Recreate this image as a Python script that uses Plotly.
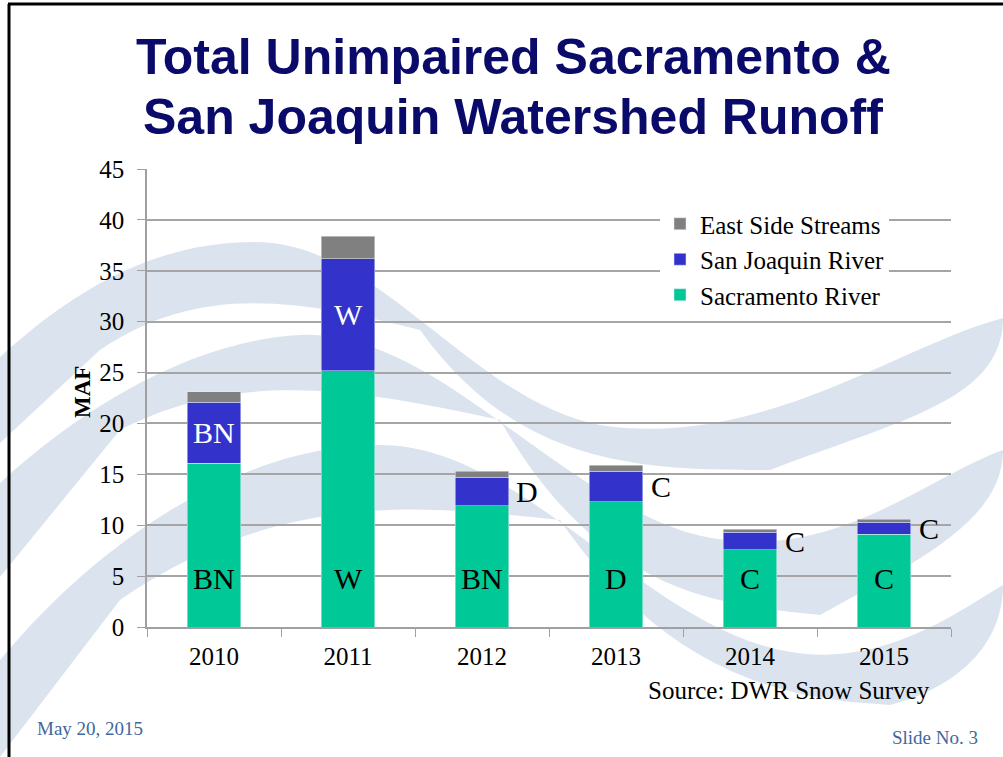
import plotly.graph_objects as go

# water years and runoff (million acre-feet) per basin
years = ["2010", "2011", "2012", "2013", "2014", "2015"]
sacramento = [16.1, 25.2, 11.9, 12.3, 7.6, 9.1]
san_joaquin = [6.0, 11.0, 2.8, 3.0, 1.7, 1.2]
east_side = [1.0, 2.2, 0.6, 0.6, 0.3, 0.3]

# water year classification labels
sac_class = ["BN", "W", "BN", "D", "C", "C"]
sj_class = ["BN", "W", "D", "C", "C", "C"]

W, H = 1003, 757
L, R, T, B = 147, 52, 169, 130
SERIF = "Liberation Serif, Times New Roman, serif"
WAVE = "rgb(219,228,238)"


def fx(px):
    return (px - L) / (W - L - R)


def fy(py):
    return (H - B - py) / (H - T - B)


def band(pts):
    # pts: start point then groups of three bezier points, in pixels
    s = "M%.4f,%.4f" % (fx(pts[0][0]), fy(pts[0][1]))
    rest = pts[1:]
    for k in range(0, len(rest), 3):
        c = rest[k:k + 3]
        if len(c) == 1:
            s += " L%.4f,%.4f" % (fx(c[0][0]), fy(c[0][1]))
        else:
            s += " C" + " ".join("%.4f,%.4f" % (fx(a), fy(b)) for a, b in c)
    return s + " Z"


waves = [
    [(0, 357), (90, 275), (170, 242), (255, 242), (380, 242), (470, 400), (600, 425),
     (760, 450), (900, 345), (1003, 318), (1003, 400), (900, 420), (770, 470), (650, 470),
     (520, 470), (420, 330), (300, 300), (200, 282), (100, 350), (0, 443)],
    [(0, 483), (90, 400), (200, 340), (300, 335), (430, 330), (540, 480), (680, 530),
     (820, 575), (920, 480), (1003, 450), (1003, 520), (920, 560), (820, 615), (720, 605),
     (600, 595), (500, 420), (360, 390), (240, 368), (120, 430), (0, 577)],
    [(0, 660), (100, 540), (240, 445), (380, 445), (520, 445), (640, 620), (780, 650),
     (880, 672), (960, 610), (1003, 585), (1003, 650), (950, 690), (890, 705), (820, 700),
     (680, 695), (560, 520), (420, 505), (280, 490), (120, 600), (0, 757)],
]

fig = go.Figure()
fig.add_bar(x=years, y=sacramento, name="Sacramento River", marker_color="rgb(0,200,150)", width=0.4)
fig.add_bar(x=years, y=san_joaquin, name="San Joaquin River", marker_color="rgb(51,51,204)", width=0.4)
fig.add_bar(x=years, y=east_side, name="East Side Streams", marker_color="rgb(128,128,128)", width=0.4)

shapes = [dict(type="path", path=band(w), xref="paper", yref="paper", fillcolor=WAVE,
               line=dict(width=0), layer="below") for w in waves]
# slide border
shapes.append(dict(type="line", xref="paper", yref="paper", x0=fx(9), x1=fx(9), y0=fy(4), y1=fy(757),
                   line=dict(color="black", width=3)))
shapes.append(dict(type="line", xref="paper", yref="paper", x0=fx(8), x1=fx(1003), y0=fy(4), y1=fy(4),
                   line=dict(color="black", width=3)))

annotations = []
for i in range(len(years)):
    annotations.append(dict(x=i, y=4.8, text=sac_class[i], showarrow=False,
                            font=dict(family=SERIF, size=30, color="black")))
    mid = sacramento[i] + san_joaquin[i] / 2
    if san_joaquin[i] > 4:
        annotations.append(dict(x=i, y=mid, text=sj_class[i], showarrow=False,
                                font=dict(family=SERIF, size=30, color="white")))
    else:
        annotations.append(dict(x=i, y=mid, text=sj_class[i], showarrow=False, xshift=45,
                                font=dict(family=SERIF, size=30, color="black")))


def note(x, y, text, size, color, family=SERIF, xanchor="center", angle=0):
    return dict(xref="paper", yref="paper", x=fx(x), y=fy(y), text=text, showarrow=False,
                xanchor=xanchor, yanchor="middle", textangle=angle,
                font=dict(family=family, size=size, color=color))


ARIAL = "Arial, Liberation Sans, sans-serif"
NAVY = "rgb(10,10,106)"
DATE_BLUE = "rgb(65,104,156)"
annotations += [
    note(513, 57, "<b>Total Unimpaired Sacramento &amp;</b>", 50, NAVY, ARIAL),
    note(513, 117, "<b>San Joaquin Watershed Runoff</b>", 50, NAVY, ARIAL),
    note(82, 392, "<b>MAF</b>", 23, "black", angle=-90),
    note(932, 690, "Source: DWR Snow Survey", 25, "black", xanchor="right"),
    note(35, 728, "May 20, 2015", 19, DATE_BLUE, xanchor="left"),
    note(980, 737, "Slide No. 3", 19, DATE_BLUE, xanchor="right"),
]

fig.update_layout(
    width=W, height=H,
    margin=dict(l=L, r=R, t=T, b=B),
    barmode="stack",
    paper_bgcolor="white",
    plot_bgcolor="rgba(0,0,0,0)",
    font=dict(family=SERIF, size=25, color="black"),
    shapes=shapes,
    annotations=annotations,
    legend=dict(x=fx(660), y=fy(201), xanchor="left", yanchor="top", traceorder="reversed",
                bgcolor="white", font=dict(family=SERIF, size=25, color="black")),
    xaxis=dict(type="category", range=[-0.5, 5.5], showline=True, linecolor="rgb(160,160,160)",
               linewidth=1.5, ticks="outside", tickson="boundaries", ticklen=8,
               tickcolor="rgb(160,160,160)", showgrid=False, ticklabelstandoff=6),
    yaxis=dict(range=[0, 45], dtick=5, showline=True, linecolor="rgb(160,160,160)", linewidth=1.5,
               ticks="outside", ticklen=8, tickcolor="rgb(160,160,160)",
               gridcolor="rgb(165,165,165)", gridwidth=1.5, zeroline=False, ticklabelstandoff=8),
)

# drop the page's default body margin so the slide fills the window
fig.write_html("out.html", config={"displayModeBar": False},
               post_script="document.body.style.margin='0';")
